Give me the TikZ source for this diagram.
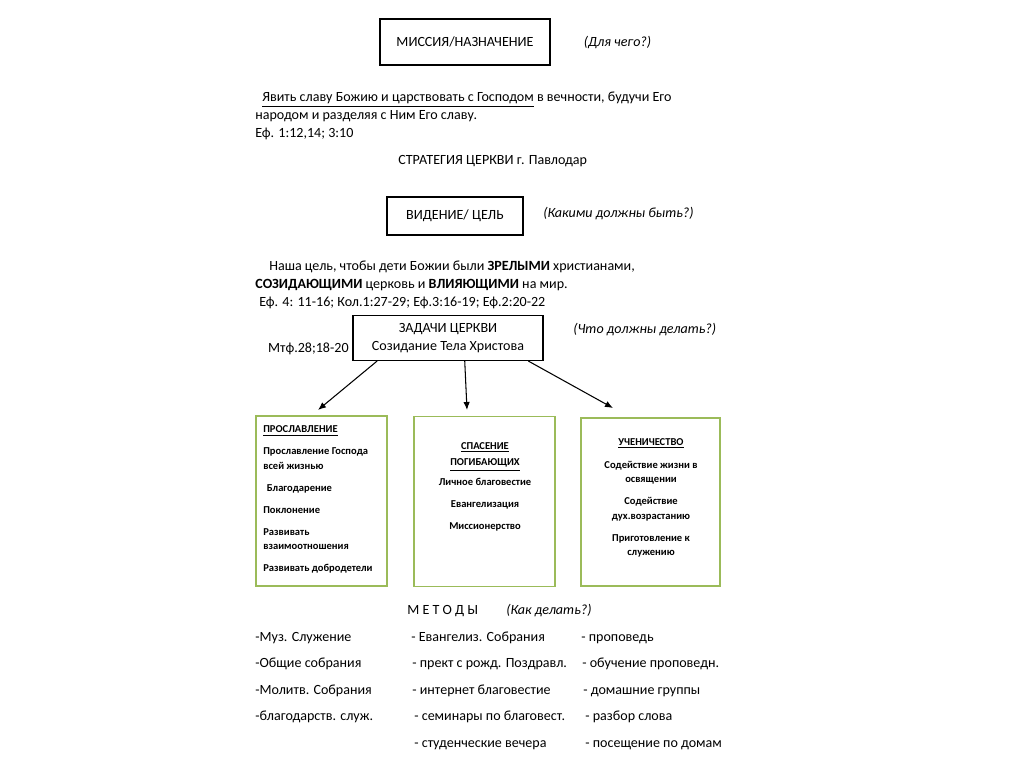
\documentclass[tikz,border=0pt]{standalone}
\usepackage{fontspec}
\setmainfont{Carlito}
\usetikzlibrary{positioning,arrows.meta}

\definecolor{boxgreen}{RGB}{155,187,89}

\begin{document}
\begin{tikzpicture}[
      x=0.02cm, y=-0.02cm,
      every node/.style={font=\fontsize{8}{10.2}\selectfont, inner sep=0pt},
      headbox/.style={draw, line width=0.6pt},
      hint/.style={font=\fontsize{8}{10.2}\selectfont\itshape},
      taskbox/.style={draw=boxgreen, line width=0.9pt, minimum height=3.4cm},
      boxtext/.style={font=\fontsize{6}{8.2}\selectfont\bfseries},
      arrow/.style={-{Latex[length=1.6mm, width=1.3mm]}, line width=0.6pt},
    ]
    \useasboundingbox (0,0) rectangle (1024,767);

    % mission
    \node[headbox, minimum width=3.4cm, minimum height=0.92cm] (mission) at (465,42) {МИССИЯ/НАЗНАЧЕНИЕ};
    \node[hint, right=0.66cm of mission] (whyq) {(Для чего?)};
    \node[anchor=base west, align=left] (missiontext) at (255,137)
      {\hspace*{0.14cm}\underline{Явить славу Божию и царствовать с Господом} в вечности, будучи Его\\
       народом и разделяя с Ним Его славу.\\
       Еф. 1:12,14; 3:10};
    \node[anchor=base west] (strategy) at (398,164) {СТРАТЕГИЯ ЦЕРКВИ г. Павлодар};

    % vision
    \node[headbox, minimum width=2.72cm, minimum height=0.76cm] (vision) at (455,216) {ВИДЕНИЕ/ ЦЕЛЬ};
    \node[hint, anchor=base west] (whatq) at (543,217) {(Какими должны быть?)};
    \node[anchor=base west, align=left] (visiontext) at (255,306)
      {\hspace*{0.28cm}Наша цель, чтобы дети Божии были \textbf{ЗРЕЛЫМИ} христианами,\\
       \textbf{СОЗИДАЮЩИМИ} церковь и \textbf{ВЛИЯЮЩИМИ} на мир.\\
       \hspace*{0.08cm}Еф. 4: 11-16; Кол.1:27-29; Еф.3:16-19; Еф.2:20-22};

    % tasks
    \node[headbox, minimum width=3.8cm, minimum height=0.9cm, align=center] (tasks) at (448,338)
      {ЗАДАЧИ ЦЕРКВИ\\Созидание Тела Христова};
    \node[anchor=base east] (mtf) at (349,352) {Мтф.28;18-20};
    \node[hint, anchor=base west] (doq) at (573,333) {(Что должны делать?)};

    % three directions
    \node[taskbox, minimum width=2.62cm] (glory) at (321.5,501) {};
    \node[taskbox, minimum width=2.82cm] (rescue) at (484.5,501.5) {};
    \node[taskbox, minimum width=2.78cm, minimum height=3.36cm] (disciple) at (650.5,502) {};

    \node[boxtext, anchor=base west, align=left] (glorytext) at (263,571.5)
      {\underline{ПРОСЛАВЛЕНИЕ}\\[4.3pt]
       Прославление Господа\\всей жизнью\\[4.3pt]
       \hspace*{2pt}Благодарение\\[4.3pt]
       Поклонение\\[4.3pt]
       Развивать\\взаимоотношения\\[4.3pt]
       Развивать добродетели};
    \node[boxtext, anchor=base, align=center] (rescuetext) at (485,529.5)
      {\underline{СПАСЕНИЕ}\\[1.4pt]
       \underline{ПОГИБАЮЩИХ}\\[3pt]
       Личное благовестие\\[4.3pt]
       Евангелизация\\[4.3pt]
       Миссионерство};
    \node[boxtext, anchor=base, align=center] (discipletext) at (651,555.5)
      {\underline{УЧЕНИЧЕСТВО}\\[5pt]
       Содействие жизни в\\освящении\\[4.3pt]
       Содействие\\дух.возрастанию\\[4.3pt]
       Приготовление к\\служению};

    \coordinate (tipa) at (318,410);
    \coordinate (tipb) at (467,410);
    \coordinate (tipc) at (613,408);
    \draw[arrow] (tasks.198) -- (tipa);
    \draw[arrow] (tasks.306) -- (tipb);
    \draw[arrow] (tasks.344) -- (tipc);

    % methods
    \node[anchor=base west] (methods) at (407,614) {М Е Т О Д Ы};
    \node[hint, anchor=base west] (howq) at (506,614) {(Как делать?)};

    \node[anchor=base west] (ma1) at (255,641) {-Муз. Служение};
    \node[anchor=base west] (ma2) at (255,667) {-Общие собрания};
    \node[anchor=base west] (ma3) at (255,694) {-Молитв. Собрания};
    \node[anchor=base west] (ma4) at (255,720) {-благодарств. служ.};

    \node[anchor=base west] (mb1) at (411,641) {- Евангелиз. Собрания};
    \node[anchor=base west] (mb2) at (412,667) {- прект с рожд. Поздравл.};
    \node[anchor=base west] (mb3) at (412,694) {- интернет благовестие};
    \node[anchor=base west] (mb4) at (414,720) {- семинары по благовест.};
    \node[anchor=base west] (mb5) at (414,747) {- студенческие вечера};

    \node[anchor=base west] (mc1) at (581,641) {- проповедь};
    \node[anchor=base west] (mc2) at (582,667) {- обучение проповедн.};
    \node[anchor=base west] (mc3) at (583,694) {- домашние группы};
    \node[anchor=base west] (mc4) at (585,720) {- разбор слова};
    \node[anchor=base west] (mc5) at (585,747) {- посещение по домам};
  \end{tikzpicture}
\end{document}
